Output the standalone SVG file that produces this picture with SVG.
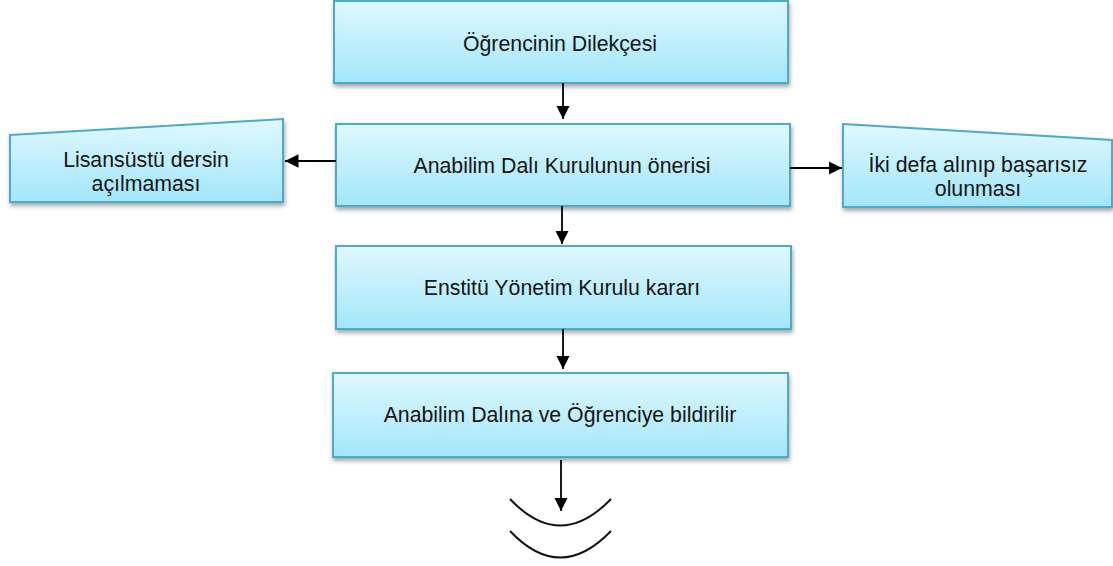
<svg xmlns="http://www.w3.org/2000/svg" width="1113" height="566" viewBox="0 0 1113 566">
<style>
.box{fill:url(#g);stroke:#4eaac8;stroke-width:2;filter:url(#sh)}
.t{font-family:"Liberation Sans",Arial,sans-serif;font-size:21.3px;fill:#151515;text-anchor:middle}
.c{stroke:#000;stroke-width:1.8;fill:none}
.arc{stroke:#111;stroke-width:2;fill:none}
</style>
<defs>
<linearGradient id="g" x1="0" y1="0" x2="0" y2="1">
<stop offset="0" stop-color="#e0f8fe"/>
<stop offset="1" stop-color="#a2e6fa"/>
</linearGradient>
<filter id="sh" x="-10%" y="-20%" width="120%" height="150%">
<feDropShadow dx="1" dy="3" stdDeviation="2" flood-color="#000" flood-opacity="0.35"/>
</filter>
<marker id="ah" viewBox="0 0 10 10" refX="10" refY="5" markerWidth="7.5" markerHeight="7.5" orient="auto" markerUnits="strokeWidth">
<path d="M0,0 L10,5 L0,10 z" fill="#000"/>
</marker>
</defs>
<g id="n1"><rect class="box" x="334" y="1" width="454" height="82"/><text class="t" x="560" y="51">Öğrencinin Dilekçesi</text></g>
<g id="n2"><rect class="box" x="336" y="124" width="454" height="82"/><text class="t" x="562" y="173">Anabilim Dalı Kurulunun önerisi</text></g>
<g id="n3"><polygon class="box" points="10,135 283,119 283,202 10,202"/><text class="t" x="146" y="167">Lisansüstü dersin</text><text class="t" x="146" y="191">açılmaması</text></g>
<g id="n4"><polygon class="box" points="843,124 1112,140 1112,207 843,207"/><text class="t" x="978" y="172">İki defa alınıp başarısız</text><text class="t" x="978" y="196">olunması</text></g>
<g id="n5"><rect class="box" x="336" y="246" width="455" height="83"/><text class="t" x="562" y="295">Enstitü Yönetim Kurulu kararı</text></g>
<g id="n6"><rect class="box" x="333" y="373" width="455" height="84"/><text class="t" x="560" y="422">Anabilim Dalına ve Öğrenciye bildirilir</text></g>
<g id="connectors">
<line class="c" x1="563" y1="83" x2="563" y2="119" marker-end="url(#ah)"/>
<line class="c" x1="562" y1="206" x2="562" y2="244" marker-end="url(#ah)"/>
<line class="c" x1="563" y1="329" x2="563" y2="369" marker-end="url(#ah)"/>
<line class="c" x1="561" y1="460" x2="561" y2="511" marker-end="url(#ah)"/>
<line class="c" x1="336" y1="161" x2="285" y2="161" marker-end="url(#ah)"/>
<line class="c" x1="790" y1="168" x2="842" y2="168" marker-end="url(#ah)"/>
<path class="arc" d="M510,499 Q560,552 611,499"/>
<path class="arc" d="M510,531 Q560,584 611,531"/>
</g>
</svg>
